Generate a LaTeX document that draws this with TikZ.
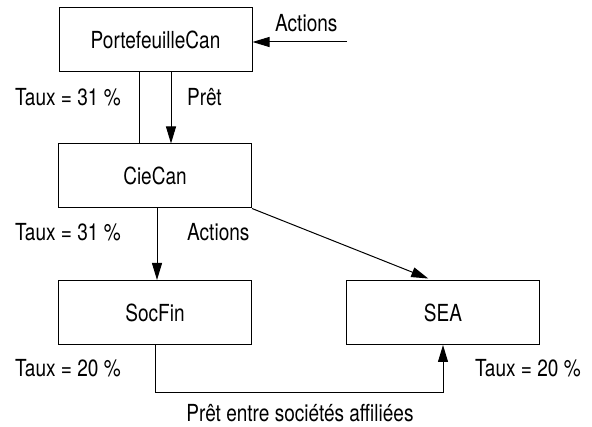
\documentclass[tikz,border=0pt]{standalone}
\usepackage{fontspec}
\setmainfont[FakeStretch=0.81]{TeX Gyre Heros}
\usetikzlibrary{arrows.meta,calc}
\tikzset{
  entity/.style={draw, line width=1pt, minimum width=193pt, minimum height=64pt, inner sep=0pt, font=\fontsize{23.5}{28}\selectfont},
  lbl/.style={inner sep=0pt, font=\fontsize{23.5}{28}\selectfont},
  conn/.style={line width=1pt},
  arr/.style={line width=1pt, -{Triangle[length=17pt,width=10pt]}}
}
\begin{document}
\begin{tikzpicture}[x=1pt,y=-1pt]
\useasboundingbox (0,0) rectangle (592,427);
\node[entity] (P) at (155.5,40) {PortefeuilleCan};
\node[entity] (C) at (155,176) {CieCan};
\node[entity] (S) at (155,312.5) {SocFin};
\node[entity] (E) at (443,312.5) {SEA};
\coordinate (actin) at (347,42);
% connectors
\draw[conn] ($(P.south)+(-16.5,0)$) -- ($(C.north)+(-16,0)$);
\draw[arr] ($(P.south)+(15.5,0)$) -- ($(C.north)+(16,0)$);
\draw[arr] (actin) -- (actin -| P.east);
\draw[arr] ($(C.south)+(2,0)$) -- ($(S.north)+(2,0)$);
\draw[arr, shorten >=4pt] (C.south east) -- ($(E.north)+(-11,0)$);
\draw[arr] (S.south) -- ++(0,48) -| (E.south);
% labels
\node[lbl, anchor=base west] (lA1) at (275,32) {Actions};
\node[lbl, anchor=base west] (lT1) at (15,106) {Taux = 31 \%};
\node[lbl, anchor=base west] (lP) at (187,106) {Prêt};
\node[lbl, anchor=base west] (lT2) at (15,241) {Taux = 31 \%};
\node[lbl, anchor=base west] (lA2) at (187,241) {Actions};
\node[lbl, anchor=base west] (lT3) at (15,377) {Taux = 20 \%};
\node[lbl, anchor=base west] (lT4) at (475,377) {Taux = 20 \%};
\node[lbl, anchor=base] (lB) at (300,422) {Prêt entre sociétés affiliées};
\end{tikzpicture}
\end{document}
